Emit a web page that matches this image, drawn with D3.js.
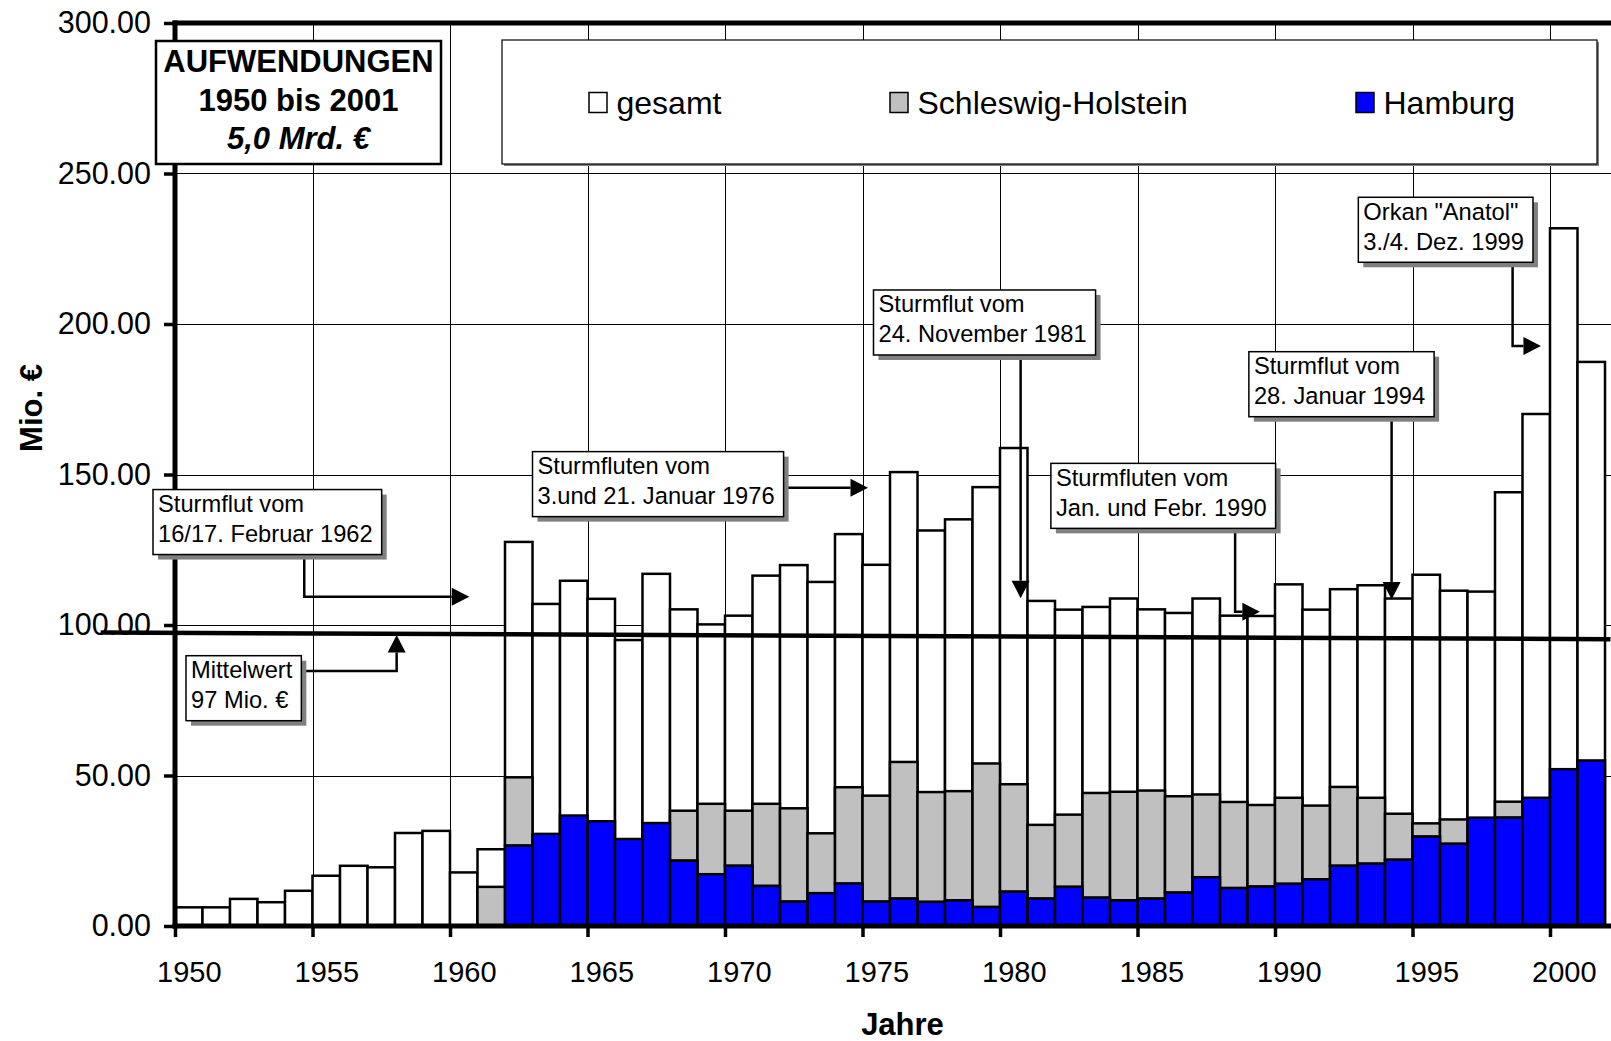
<!DOCTYPE html>
<html>
<head>
<meta charset="utf-8">
<script src="https://cdn.jsdelivr.net/npm/d3@7"></script>
<style>
  body { margin: 0; background: #fff; }
  svg { display: block; font-family: "Liberation Sans", Arial, sans-serif; }
</style>
</head>
<body>
<svg id="chart" width="1611" height="1041"></svg>
<script>
// ---- data (Mio. €) ----
const years = d3.range(1950, 2002);
const gesamt = [6.2, 6.2, 9.0, 7.9, 11.7, 16.7, 20.0, 19.5, 30.9, 31.6,
  17.8, 25.5, 127.6, 107.0, 114.7, 108.7, 95.0, 117.0, 105.2, 100.2,
  103.1, 116.4, 119.9, 114.3, 130.2, 120.0, 150.8, 131.4, 135.1, 145.8,
  158.8, 108.0, 105.1, 106.0, 108.8, 105.2, 104.0, 108.8, 103.1, 103.0,
  113.5, 105.1, 111.9, 113.2, 108.8, 116.7, 111.4, 111.1, 144.1, 170.1,
  231.8, 187.4];
const hamburg = [0, 0, 0, 0, 0, 0, 0, 0, 0, 0,
  0, 0, 26.7, 30.6, 36.7, 34.8, 28.9, 34.2, 21.7, 17.2,
  20.0, 13.3, 8.1, 10.9, 14.1, 8.1, 9.1, 8.0, 8.5, 6.3,
  11.4, 9.1, 13.0, 9.4, 8.5, 9.1, 11.1, 16.2, 12.6, 13.1,
  14.0, 15.5, 20.0, 20.7, 22.0, 29.7, 27.3, 36.0, 36.0, 42.6,
  52.1, 55.0];
const schleswigHolstein = [0, 0, 0, 0, 0, 0, 0, 0, 0, 0,
  0, 13.0, 22.7, 0, 0, 0, 0, 0, 16.6, 23.4,
  18.3, 27.3, 31.0, 19.9, 32.0, 35.2, 45.4, 36.5, 36.3, 47.7,
  35.7, 24.5, 24.0, 34.8, 36.1, 35.9, 32.0, 27.5, 28.6, 27.1,
  28.6, 24.5, 26.2, 21.9, 15.3, 4.4, 8.1, 0, 5.3, 0,
  0, 0];
const seriesNames = ["gesamt", "Schleswig-Holstein", "Hamburg"];
const yTicks = [0, 50, 100, 150, 200, 250, 300];
const yearTicks = [1950, 1955, 1960, 1965, 1970, 1975, 1980, 1985, 1990, 1995, 2000];
const meanLine = [[1947.3, 97.5], [2002.2, 95.3]];   // drawn average line
const titleLines = ["AUFWENDUNGEN", "1950 bis 2001", "5,0 Mrd. €"];

// call-outs: box top-left and arrow path in (year, value) units
const notes = [
  { lines: ["Sturmflut vom", "16/17. Februar 1962"], box: [1949.2, 145],
    arrow: [[1954.7, 123.5], [1954.7, 109.4], [1960.7, 109.4]] },
  { lines: ["Sturmfluten vom", "3.und 21. Januar 1976"], box: [1963.0, 157.6],
    arrow: [[1971.9, 145.6], [1975.2, 145.6]] },
  { lines: ["Sturmflut vom", "24. November 1981"], box: [1975.4, 211.3],
    arrow: [[1980.75, 189.4], [1980.75, 108.9]] },
  { lines: ["Sturmfluten vom", "Jan. und Febr. 1990"], box: [1981.85, 153.7],
    arrow: [[1988.55, 131.9], [1988.55, 104.4], [1989.45, 104.4]] },
  { lines: ["Sturmflut vom", "28. Januar 1994"], box: [1989.05, 190.8],
    arrow: [[1994.24, 168.9], [1994.24, 108.5]] },
  { lines: ["Orkan \"Anatol\"", "3./4. Dez. 1999"], box: [1993.03, 242.1],
    arrow: [[1998.64, 220.1], [1998.64, 192.7], [1999.67, 192.7]] },
  { lines: ["Mittelwert", "97 Mio. €"], box: [1950.4, 89.8],
    arrow: [[1954.5, 84.7], [1958.06, 84.7], [1958.06, 96.7]] }
];

// ---- layout ----
const plotLeft = 175, plotTop = 23, plotBottom = 926, plotRight = 1630, step = 27.5;
const BLUE = "#0000ff", GRAY = "#c0c0c0", SHADOW = "#808080";

const svg = d3.select("#chart");
svg.append("rect").attr("width", 1611).attr("height", 1041).attr("fill", "#fff");

const x = d3.scaleBand().domain(years).range([plotLeft, plotLeft + years.length * step]);
const xLin = d3.scaleLinear().domain([1950, 2002]).range([plotLeft, plotLeft + 52 * step]);
const y = d3.scaleLinear().domain([0, 300]).range([plotBottom, plotTop]);

// grid
const grid = svg.append("g").attr("stroke", "#000").attr("stroke-width", 1);
grid.selectAll("line.h").data(yTicks.slice(1, -1)).join("line")
  .attr("x1", plotLeft).attr("x2", plotRight)
  .attr("y1", d => Math.round(y(d)) + 0.5).attr("y2", d => Math.round(y(d)) + 0.5);
grid.selectAll("line.v").data(yearTicks.slice(1)).join("line")
  .attr("x1", d => Math.round(xLin(d)) + 0.5).attr("x2", d => Math.round(xLin(d)) + 0.5)
  .attr("y1", plotTop).attr("y2", plotBottom);

// bars
const rows = years.map((yr, i) => ({ year: yr, gesamt: gesamt[i], hh: hamburg[i], sh: schleswigHolstein[i] }));
const bars = svg.append("g").attr("stroke", "#000").attr("stroke-width", 2.5);
bars.selectAll("rect.g").data(rows).join("rect")
  .attr("x", d => x(d.year)).attr("width", x.bandwidth())
  .attr("y", d => y(d.gesamt)).attr("height", d => y(0) - y(d.gesamt))
  .attr("fill", "#fff");

const stack = d3.stack().keys(["hh", "sh"])(rows);
const stackFill = { hh: BLUE, sh: GRAY };
[stack[1], stack[0]].forEach(layer => {
  bars.selectAll(null).data(layer.filter(d => d[1] - d[0] > 0)).join("rect")
    .attr("x", d => x(d.data.year)).attr("width", x.bandwidth())
    .attr("y", d => y(d[1])).attr("height", d => y(d[0]) - y(d[1]))
    .attr("fill", stackFill[layer.key]);
});

// axes
const yAxis = svg.append("g").attr("transform", `translate(${plotLeft},0)`)
  .call(d3.axisLeft(y).tickValues(yTicks).tickFormat(d3.format(".2f")).tickSize(11).tickPadding(13));
yAxis.select(".domain").remove();
yAxis.selectAll(".tick line").attr("stroke-width", 3.5);
yAxis.selectAll("text").attr("font-size", 30.5).attr("font-family", "Liberation Sans, Arial, sans-serif");

const xAxis = svg.append("g").attr("transform", `translate(0,${plotBottom})`)
  .call(d3.axisBottom(xLin).tickValues(yearTicks).tickFormat(d3.format("d")).tickSize(11).tickPadding(24));
xAxis.select(".domain").remove();
xAxis.selectAll(".tick line").attr("stroke-width", 3.5);
xAxis.selectAll("text").attr("font-size", 29).attr("font-family", "Liberation Sans, Arial, sans-serif")
  .attr("x", x.bandwidth() / 2);

svg.append("line").attr("x1", plotLeft).attr("x2", plotLeft).attr("y1", plotTop - 2.5).attr("y2", plotBottom + 2.5)
  .attr("stroke", "#000").attr("stroke-width", 5);
svg.append("line").attr("x1", plotLeft - 2.5).attr("x2", plotRight).attr("y1", plotTop).attr("y2", plotTop)
  .attr("stroke", "#000").attr("stroke-width", 5);
svg.append("line").attr("x1", plotLeft - 2.5).attr("x2", plotRight).attr("y1", plotBottom).attr("y2", plotBottom)
  .attr("stroke", "#000").attr("stroke-width", 5);

// average line
svg.append("line")
  .attr("x1", xLin(meanLine[0][0])).attr("y1", y(meanLine[0][1]))
  .attr("x2", xLin(meanLine[1][0])).attr("y2", y(meanLine[1][1]))
  .attr("stroke", "#000").attr("stroke-width", 4.5);

// axis titles
svg.append("text").attr("x", (plotLeft + plotRight) / 2).attr("y", 1035)
  .attr("text-anchor", "middle").attr("font-size", 31).attr("font-weight", "bold").text("Jahre");
svg.append("text").attr("transform", "translate(42,408) rotate(-90)")
  .attr("text-anchor", "middle").attr("font-size", 31).attr("font-weight", "bold").text("Mio. €");

// arrows
function drawArrow(pts) {
  const p = pts.map(d => [xLin(d[0]), y(d[1])]);
  const [ax, ay] = p[p.length - 2], [bx, by] = p[p.length - 1];
  const len = Math.hypot(bx - ax, by - ay), ux = (bx - ax) / len, uy = (by - ay) / len;
  const head = 17.5, half = 9;
  const base = [bx - ux * head, by - uy * head];
  const line = p.slice(0, -1).concat([base]);
  svg.append("path").attr("d", d3.line()(line)).attr("fill", "none")
    .attr("stroke", "#000").attr("stroke-width", 2.5);
  svg.append("path")
    .attr("d", `M${bx},${by}L${base[0] - uy * half},${base[1] + ux * half}L${base[0] + uy * half},${base[1] - ux * half}Z`)
    .attr("fill", "#000");
}

function drawNote(n) {
  drawArrow(n.arrow);
  const x0 = xLin(n.box[0]), y0 = y(n.box[1]);
  const g = svg.append("g");
  const shadow = g.append("rect").attr("fill", SHADOW);
  const box = g.append("rect").attr("fill", "#fff").attr("stroke", "#000").attr("stroke-width", 1.5);
  const texts = n.lines.map((s, i) => g.append("text")
    .attr("x", x0 + 5).attr("y", y0 + 22.5 + i * 30).attr("font-size", 23.7).text(s));
  const w = d3.max(texts, t => t.node().getComputedTextLength()) + 14;
  const h = 65;
  shadow.attr("x", x0 + 5).attr("y", y0 + 5).attr("width", w).attr("height", h);
  box.attr("x", x0).attr("y", y0).attr("width", w).attr("height", h);
}
notes.forEach(drawNote);

// title box
const tb = { x: 156, y: 41, w: 285, h: 123 };
svg.append("rect").attr("x", tb.x).attr("y", tb.y).attr("width", tb.w).attr("height", tb.h)
  .attr("fill", "#fff").attr("stroke", "#000").attr("stroke-width", 2.5);
titleLines.forEach((s, i) => {
  svg.append("text").attr("x", tb.x + tb.w / 2).attr("y", tb.y + 31 + i * 38.7)
    .attr("text-anchor", "middle").attr("font-size", 31).attr("font-weight", "bold")
    .attr("font-style", i === 2 ? "italic" : "normal").text(s);
});

// legend
const lg = { x: 502, y: 40, w: 1095, h: 124 };
svg.append("rect").attr("x", lg.x + 2).attr("y", lg.y + 2).attr("width", lg.w).attr("height", lg.h).attr("fill", SHADOW);
svg.append("rect").attr("x", lg.x).attr("y", lg.y).attr("width", lg.w).attr("height", lg.h)
  .attr("fill", "#fff").attr("stroke", "#000").attr("stroke-width", 1.2);
const legendX = [589, 890, 1356];
const legendFill = ["#fff", GRAY, BLUE];
seriesNames.forEach((name, i) => {
  svg.append("rect").attr("x", legendX[i]).attr("y", 92.5).attr("width", 18).attr("height", 20)
    .attr("fill", legendFill[i]).attr("stroke", "#000").attr("stroke-width", 1.5);
  svg.append("text").attr("x", legendX[i] + 27.5).attr("y", 113.5).attr("font-size", 32).text(name);
});
</script>
</body>
</html>
